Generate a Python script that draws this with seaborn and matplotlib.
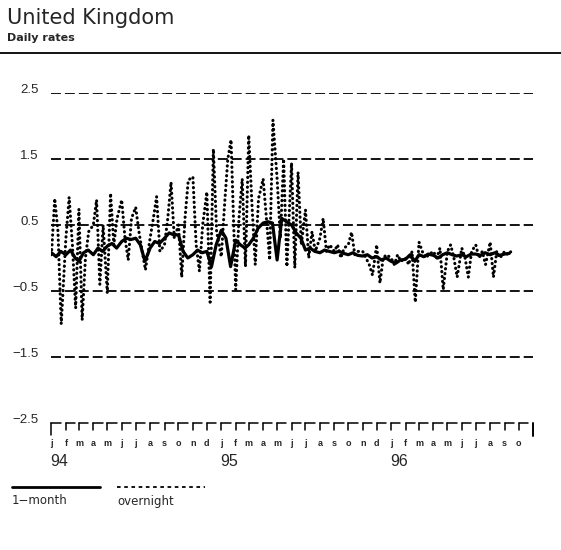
import pandas as pd
import seaborn as sns
import matplotlib.pyplot as plt
from matplotlib.lines import Line2D
from matplotlib.transforms import ScaledTranslation, blended_transform_factory

# --- data (percent) ---
month_letters = ['j', 'f', 'm', 'a', 'm', 'j', 'j', 'a', 's', 'o', 'n', 'd'] * 2 + \
                ['j', 'f', 'm', 'a', 'm', 'j', 'j', 'a', 's', 'o']
year_labels = ['94', '95', '96']
y_ticks = [2.5, 1.5, 0.5, -0.5, -1.5, -2.5]

# 1-month rate, sampled on the 1st, 11th and 21st of each month
one_month_94 = [0.08, 0.02, 0.10, 0.05, 0.12, 0.00, -0.05, 0.08, 0.12, 0.05, 0.15, 0.10,
                0.18, 0.22, 0.15, 0.25, 0.30, 0.28, 0.30, 0.20, -0.05, 0.15, 0.25, 0.22,
                0.30, 0.38, 0.35, 0.35, 0.10, 0.00, 0.05, 0.12, 0.08, 0.10, -0.13, 0.20]
one_month_95 = [0.42, 0.30, -0.13, 0.27, 0.20, 0.15, 0.20, 0.30, 0.45, 0.53, 0.55, 0.53,
                -0.03, 0.60, 0.55, 0.50, 0.38, 0.30, 0.12, 0.15, 0.10, 0.08, 0.12, 0.10,
                0.08, 0.10, 0.07, 0.05, 0.08, 0.04, 0.03, 0.05, 0.00, 0.02, -0.03, 0.00]
one_month_96 = [-0.05, -0.08, -0.03, -0.02, 0.05, -0.05, 0.05, 0.02, 0.06, 0.04, 0.00, 0.05,
                0.08, 0.05, 0.03, 0.05, 0.02, 0.06, 0.06, 0.04, 0.08, 0.05, 0.08, 0.04,
                0.06, 0.07]

# overnight rate, sampled on the 1st, 8th, 15th and 22nd of each month
overnight_94 = [0.05, 0.90, 0.40, -1.00, 0.30, 0.92, 0.20, -0.76, 0.74, -0.94, 0.00, 0.40,
                0.50, 0.88, -0.40, 0.50, -0.53, 0.98, 0.20, 0.60, 0.88, 0.30, -0.03, 0.60,
                0.77, 0.40, 0.10, -0.18, 0.30, 0.60, 0.93, 0.10, 0.20, 0.60, 1.15, 0.30,
                0.50, -0.29, 0.60, 1.18, 1.23, 0.20, -0.20, 0.50, 1.00, -0.67, 1.65, 0.40]
overnight_95 = [0.02, 0.80, 1.50, 1.79, -0.48, 0.60, 1.20, -0.13, 1.86, 0.80, -0.10, 0.90,
                1.20, 0.60, -0.03, 2.09, 1.20, 0.30, 1.50, -0.13, 1.44, -0.15, 1.30, 0.20,
                0.73, 0.00, 0.40, 0.10, 0.30, 0.60, 0.10, 0.20, 0.10, 0.20, 0.00, 0.15,
                0.20, 0.39, 0.05, 0.10, 0.10, 0.00, -0.10, -0.26, 0.20, -0.38, 0.00, 0.05]
overnight_96 = [0.00, -0.10, 0.05, -0.05, 0.00, -0.10, 0.10, -0.67, 0.24, 0.10, 0.00, 0.05,
                0.10, 0.00, 0.15, -0.48, 0.10, 0.20, 0.00, -0.29, 0.15, 0.00, -0.29, 0.10,
                0.20, 0.00, 0.10, -0.10, 0.24, -0.29, 0.10, 0.00, 0.10, 0.05, 0.10]


def sample_dates(days, n):
    out = []
    for m in pd.date_range('1994-01-01', '1996-09-01', freq='MS'):
        for d in days:
            out.append(m + pd.Timedelta(days=d - 1))
    return out[:n]


one_month = one_month_94 + one_month_95 + one_month_96
overnight = overnight_94 + overnight_95 + overnight_96
df_1m = pd.DataFrame({'date': sample_dates([1, 11, 21], len(one_month)), 'rate': one_month})
df_on = pd.DataFrame({'date': sample_dates([1, 8, 15, 22], len(overnight)), 'rate': overnight})

months = pd.date_range('1994-01-01', '1996-10-01', freq='MS')
axis_end = pd.Timestamp('1996-11-01')

sns.set_style('white')
plt.rcParams['font.family'] = ['Liberation Sans', 'DejaVu Sans']

fig = plt.figure(figsize=(5.61, 5.50), dpi=100)
ax = fig.add_axes([51 / 561, 1 - 423 / 550, (533 - 51) / 561, 330 / 550])

for v in y_ticks[:-1]:
    ax.axhline(v, color='black', lw=1.3, linestyle=(0, (5.5, 2.2)), zorder=1)

sns.lineplot(data=df_on, x='date', y='rate', ax=ax, color='black', lw=2.2,
             linestyle=(0, (0.1, 1.5)), dash_capstyle='round', zorder=3)
sns.lineplot(data=df_1m, x='date', y='rate', ax=ax, color='black', lw=2.3, zorder=4)

ax.set_xlim(months[0] - pd.Timedelta(days=1), axis_end)
ax.set_ylim(-2.5, 2.5)
ax.set_xlabel('')
ax.set_ylabel('')
ax.set_xticks([])
ax.set_yticks(y_ticks)
ax.set_yticklabels(['2.5', '1.5', '0.5', '\u22120.5', '\u22121.5', '\u22122.5'], fontsize=9.5)
ax.tick_params(axis='y', length=0, pad=9)
off = ScaledTranslation(0, 3 / 72, fig.dpi_scale_trans)
for lab in ax.get_yticklabels():
    lab.set_transform(lab.get_transform() + off)
for s in ax.spines.values():
    s.set_visible(False)

# month brackets along the bottom
trans = blended_transform_factory(ax.transData, ax.transAxes)
px = 1 / 330
for i, m in enumerate(months):
    h = 12 * px if i == 0 else 7 * px
    ax.plot([m, m], [0, -h], transform=trans, color='black', lw=1.1, clip_on=False)
    ax.plot([m, m + pd.Timedelta(days=20)], [0, 0], transform=trans, color='black',
            lw=1.1, clip_on=False)
    ax.text(m, -20 * px, month_letters[i], transform=trans, ha='center', va='center',
            fontsize=6.5, fontweight='bold')
ax.plot([axis_end, axis_end], [0, -13 * px], transform=trans, color='black', lw=1.4,
        clip_on=False)
for i, y in enumerate(year_labels):
    ax.text(months[12 * i] - pd.Timedelta(days=2), -38 * px, y, transform=trans,
            ha='left', va='center', fontsize=11.5)

# header
fig.text(7 / 561, 1 - 18 / 550, 'United Kingdom', fontsize=15, va='center',
         family=['DejaVu Sans'])
fig.text(7 / 561, 1 - 38 / 550, 'Daily rates', fontsize=8, va='center',
         fontweight='bold', family=['DejaVu Sans'])
fig.add_artist(Line2D([0, 1], [1 - 53 / 550] * 2, color='black', lw=1.3))

# legend
fig.add_artist(Line2D([12 / 561, 100 / 561], [1 - 487 / 550] * 2, color='black', lw=2))
fig.add_artist(Line2D([117 / 561, 205 / 561], [1 - 487 / 550] * 2, color='black', lw=1.3,
                      linestyle=(0, (2, 2))))
fig.text(12 / 561, 1 - 501 / 550, '1\u2212month', fontsize=8.5, va='center',
         family=['DejaVu Sans'])
fig.text(117 / 561, 1 - 501 / 550, 'overnight', fontsize=8.5, va='center',
         family=['DejaVu Sans'])

fig.savefig('out.png', dpi=100)
